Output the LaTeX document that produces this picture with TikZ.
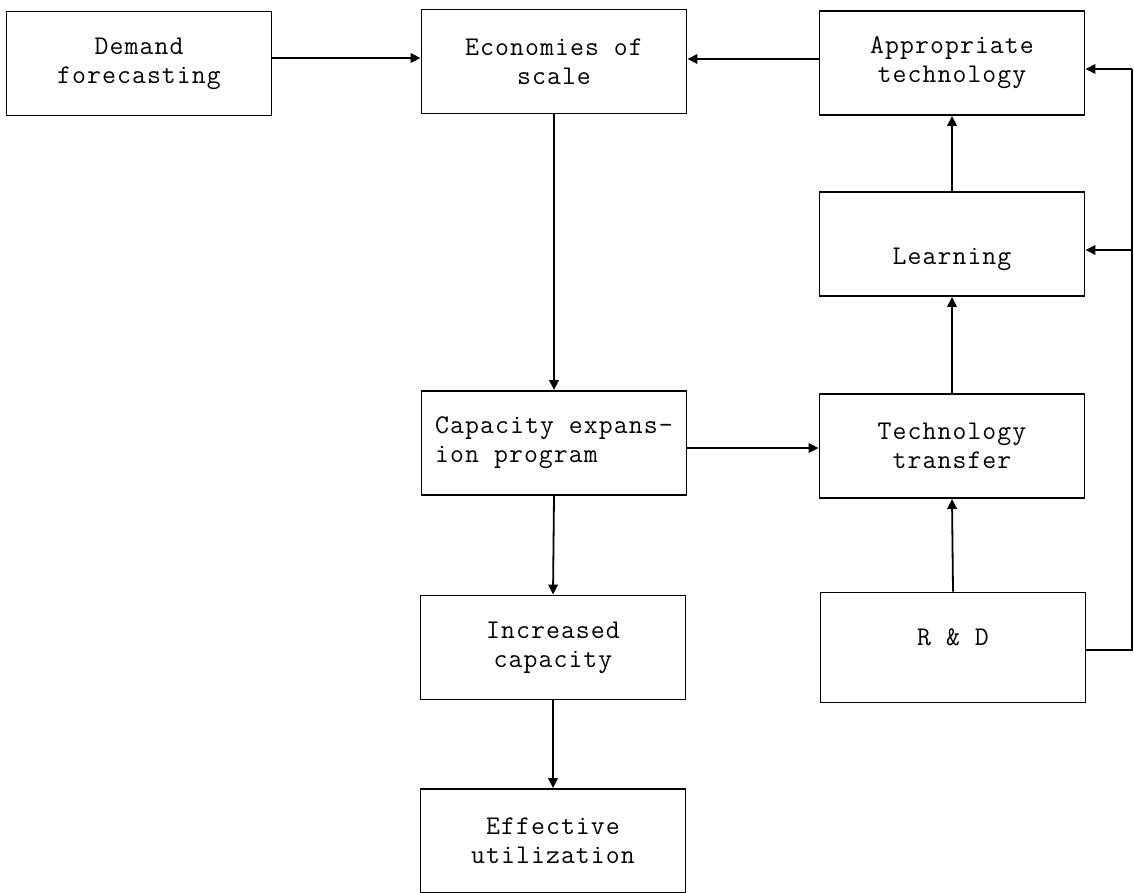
\documentclass[tikz,border=0pt]{standalone}
\usepackage{fontspec}
\setmonofont{Latin Modern Mono}[LetterSpace=4]
\usetikzlibrary{arrows.meta}
\begin{document}
\begin{tikzpicture}[x=1pt,y=-1pt,
  blk/.style={draw,line width=1.9pt,minimum width=265pt,minimum height=104pt,
    inner sep=0pt,align=center,font=\fontsize{27}{29}\selectfont\ttfamily},
  conn/.style={line width=1.8pt,-{Triangle[length=10pt,width=9.5pt]}},
  wire/.style={line width=1.8pt}]
\useasboundingbox (0,0) rectangle (1134,893);
% left column
\node[blk] (dem) at (139,63.5) {Demand\\forecasting};
% middle column
\node[blk] (eco) at (554,61.5) {Economies of\\scale};
\node[blk,align=left] (cap) at (554,443) {Capacity expans-\\ion program};
\node[blk] (inc) at (553,647.5) {Increased\\capacity};
\node[blk] (eff) at (553,841) {Effective\\utilization};
% right column
\node[blk] (app) at (952,63) {Appropriate\\technology};
\node[blk,text height=42pt,text depth=2pt] (lea) at (952,244) {Learning};
\node[blk] (tec) at (952,446) {Technology\\transfer};
\node[blk,minimum height=110pt,text height=8pt,text depth=12pt] (rnd) at (953,647.5) {R \& D};
% feedback bus on the right
\coordinate (bus) at (1132,650);
% connectors
\draw[conn] (dem.east |- 0,58) -- (eco.west |- 0,58);
\draw[conn] (app.west |- 0,59) -- (eco.east |- 0,59);
\draw[conn] (eco.south) -- (cap.north);
\draw[conn] (cap.east |- 0,448) -- (tec.west |- 0,448);
\draw[conn] (cap.south) -- (inc.north);
\draw[conn] (inc.south) -- (eff.north);
\draw[conn] (rnd.north) -- (tec.south);
\draw[conn] (tec.north) -- (lea.south);
\draw[conn] (lea.north) -- (app.south);
\draw[wire] (rnd.east |- bus) -- (bus) -- (bus |- 0,69);
\draw[conn] (bus |- 0,69) -- (app.east |- 0,69);
\draw[conn] (bus |- 0,250) -- (lea.east |- 0,250);
\end{tikzpicture}
\end{document}
